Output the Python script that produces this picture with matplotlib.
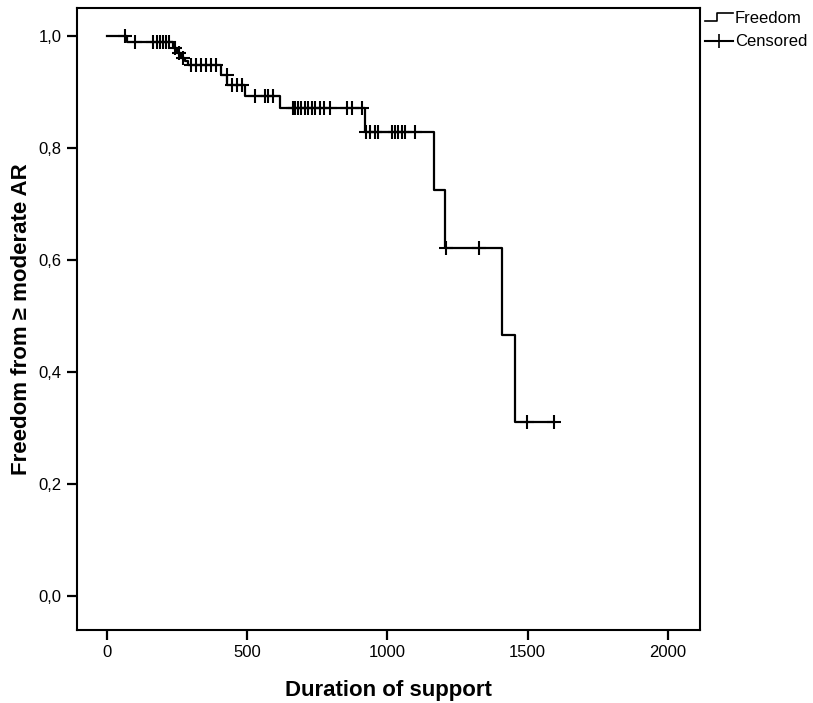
from matplotlib import pyplot as plt, rcParams
from matplotlib.lines import Line2D
from matplotlib.legend_handler import HandlerBase
import numpy as np

params = {
    'font.family': ['Liberation Sans', 'DejaVu Sans'],
    'font.size': 12,
    'axes.linewidth': 1.5,
    'xtick.major.width': 1.6,
    'ytick.major.width': 1.6,
    'xtick.major.size': 7,
    'ytick.major.size': 7,
}
rcParams.update(params)

# Kaplan-Meier curve
event_days = [0, 71, 235, 250, 264, 278, 290, 406, 428, 492, 617, 920, 1166, 1205, 1409, 1456]
freedom = [1.0, 0.989, 0.978, 0.969, 0.960, 0.955, 0.949, 0.931, 0.913, 0.893, 0.871,
           0.829, 0.725, 0.622, 0.466, 0.311]
censor_days = [64, 100, 164, 178, 190, 200, 210, 222, 243, 257, 271, 300, 318, 336, 352,
               372, 390, 427, 447, 465, 481, 528, 563, 574, 592, 662, 672, 682, 692, 705,
               718, 730, 742, 760, 773, 795, 855, 873, 909, 923, 937, 955, 968, 1016, 1027,
               1037, 1051, 1062, 1098, 1208, 1326, 1499, 1595]
xticks = [0, 500, 1000, 1500, 2000]
yticks = [0.0, 0.2, 0.4, 0.6, 0.8, 1.0]


class StepHandler(HandlerBase):
    def create_artists(self, legend, orig_handle, xd, yd, width, height, fontsize, trans):
        x = [xd, xd + width * 0.45, xd + width * 0.45, xd + width]
        y = [yd + height * 0.2, yd + height * 0.2, yd + height * 0.9, yd + height * 0.9]
        ln = Line2D(x, y, color='black', lw=1.2)
        ln.set_transform(trans)
        return [ln]


t = np.array(event_days)
s = np.array(freedom)
cd = np.array(censor_days)
cs = s[np.searchsorted(t, cd, side='right') - 1]

fig = plt.figure(figsize=(8.13, 7.03), dpi=100)
ax = fig.add_axes([0.0947, 0.104, 0.766, 0.8846])

xs = np.append(t, cd.max())
ys = np.append(s, s[-1])
ax.step(xs, ys, where='post', color='black', lw=1.6)
ax.plot(cd, cs, ls='none', marker='+', ms=10, mew=1.5, color='black')

ax.set_xlim(-107, 2114)
ax.set_ylim(-0.06, 1.05)
ax.set_xticks(xticks)
ax.set_yticks(yticks)
ax.set_xticklabels([str(v) for v in xticks], fontsize=12)
ax.set_yticklabels([('%.1f' % v).replace('.', ',') for v in yticks], fontsize=12)
ax.tick_params(direction='out', top=False, right=False, pad=4)

ax.set_xlabel('Duration of support', fontsize=16, fontweight='bold', labelpad=14)
ax.set_ylabel('Freedom from \u2265 moderate AR', fontsize=16, fontweight='bold', labelpad=5)

h1 = Line2D([], [], color='black')
h2 = Line2D([], [], color='black', marker='+', ms=10, mew=1.2)
ax.legend([h1, h2], ['Freedom', 'Censored'], handler_map={h1: StepHandler()},
          loc='upper left', bbox_to_anchor=(1.0, 1.003), frameon=False,
          fontsize=12, handlelength=1.7, handletextpad=0.1, labelspacing=0.5,
          borderaxespad=0.1, borderpad=0.2)

fig.savefig('out.png', dpi=100)
